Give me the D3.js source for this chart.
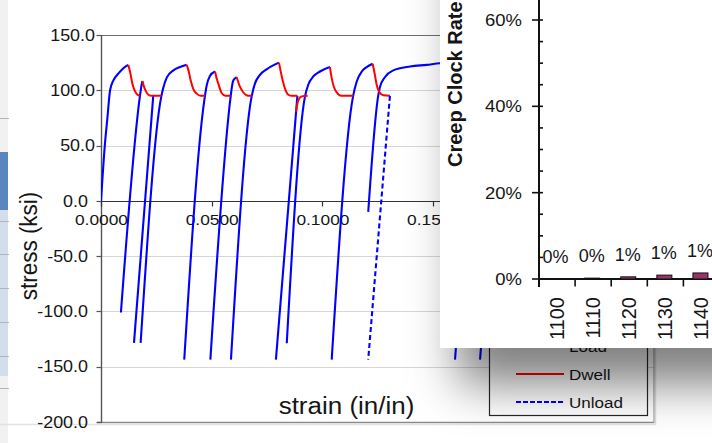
<!DOCTYPE html>
<html>
<head>
<meta charset="utf-8">
<script src="https://cdn.jsdelivr.net/npm/d3@7"></script>
<style>
  html, body { margin: 0; padding: 0; background: #ffffff; }
  svg { display: block; font-family: "Liberation Sans", Arial, sans-serif; }
</style>
</head>
<body>
<svg id="chart" width="712" height="443"></svg>
<script>
// ---------- stress-strain record (strain in/in, stress ksi) ----------
const loadSegments = [
  [[0, 0], [0.0018, 52], [0.0028, 73], [0.0041, 100], [0.0056, 109], [0.0078, 115], [0.0101, 120], [0.0123, 123]],
  [[0.0090, -101], [0.0176, 95], [0.0181, 102], [0.0187, 108.4]],
  [[0.0149, -128.5], [0.0236, 95]],
  [[0.0179, -128.5], [0.0272, 94], [0.0281, 102], [0.0297, 111.5], [0.0327, 118], [0.0357, 121], [0.0387, 123]],
  [[0.0376, -143.6], [0.0466, 90], [0.0477, 104], [0.0492, 113], [0.0515, 117]],
  [[0.0494, -143.6], [0.0586, 95], [0.0592, 104], [0.0598, 109], [0.0613, 111.8]],
  [[0.0587, -143.6], [0.0680, 94], [0.0696, 106.4], [0.0718, 114], [0.0748, 119], [0.0804, 125]],
  [[0.0790, -143.6], [0.0887, 95]],
  [[0.0839, -128.8], [0.0921, 94], [0.0936, 105], [0.0959, 112.5], [0.0989, 117], [0.1034, 121]],
  [[0.1042, -143.6], [0.1138, 94], [0.1155, 108], [0.1178, 117], [0.1200, 121], [0.1227, 124]],
  [[0.1207, -10], [0.1252, 95], [0.1260, 103], [0.1283, 112], [0.1320, 118], [0.1396, 121.5], [0.1471, 123], [0.1531, 124.4], [0.1600, 125]],
  [[0.1599, -143.6], [0.1690, 95]],
  [[0.1712, -143.6], [0.1805, 95]]
];
const dwellSegments = [
  [[0.0123, 123], [0.0131, 117], [0.0143, 105], [0.0154, 99], [0.0165, 96], [0.0176, 95]],
  [[0.0187, 108.4], [0.0193, 104], [0.0203, 99], [0.0214, 96], [0.0229, 95], [0.0274, 95]],
  [[0.0387, 123], [0.0395, 118], [0.0405, 109], [0.0417, 101], [0.0432, 97], [0.0450, 95], [0.0470, 95]],
  [[0.0515, 117], [0.0522, 111], [0.0530, 106], [0.0545, 97.5], [0.0562, 95], [0.0586, 95]],
  [[0.0613, 111.8], [0.0628, 103], [0.0643, 98], [0.0665, 95], [0.0681, 95]],
  [[0.0804, 125], [0.0816, 113], [0.0823, 107], [0.0831, 101.5], [0.0846, 96], [0.0861, 95], [0.0887, 95]],
  [[0.0881, 80.7], [0.0891, 91], [0.0907, 94.5], [0.0933, 95]],
  [[0.1034, 121], [0.1042, 111], [0.1052, 103], [0.1065, 98], [0.1085, 95], [0.1140, 95]],
  [[0.1227, 124], [0.1237, 114], [0.1245, 105], [0.1257, 98.5], [0.1275, 95.5], [0.1305, 95]]
];
const unloadSegments = [
  [[0.1305, 95], [0.1207, -143.6]]
];
const strainTicks = [0, 0.05, 0.10, 0.15, 0.20, 0.25];
const stressTicks = [150, 100, 50, 0, -50, -100, -150, -200];
const legendItems = ["Load", "Dwell", "Unload"];

// ---------- creep clock rate by temperature ----------
const temperatures = ["1100", "1110", "1120", "1130", "1140"];
const creepRates = [0, 0.2, 0.5, 0.9, 1.4];          // percent
const rateTicks = [0, 20, 40, 60];
const rateMinorTicks = [5, 10, 15, 25, 30, 35, 45, 50, 55];

const W = 712, H = 443;
const SX = 1.12;   // horizontal glyph stretch of the text
const svg = d3.select("#chart");
const defs = svg.append("defs");

function label(parent, x, y, text, o = {}) {
  const t = parent.append("text")
    .attr("transform", `translate(${x},${y}) scale(${o.sx ?? SX},1)` + (o.rotate ? ` rotate(${o.rotate})` : ""))
    .attr("text-anchor", o.anchor || "middle")
    .attr("font-size", o.size || 16)
    .attr("font-weight", o.weight || "normal")
    .attr("fill", o.fill || "#151515")
    .text(text);
  if (o.baseline) t.attr("dominant-baseline", o.baseline);
  return t;
}

svg.append("rect").attr("width", W).attr("height", H).attr("fill", "#ffffff");

// ---------- window strip at the left edge ----------
const strip = svg.append("g");
strip.append("rect").attr("x", 0).attr("y", 0).attr("width", 8).attr("height", H).attr("fill", "#f1f1f1");
strip.append("rect").attr("x", 0).attr("y", 152).attr("width", 8).attr("height", 58).attr("fill", "#5a86c0");
strip.append("rect").attr("x", 0).attr("y", 210).attr("width", 8).attr("height", 166).attr("fill", "#d3deed");
[118, 221, 254, 288, 322, 356, 388].forEach(yy =>
  strip.append("line").attr("x1", 0).attr("x2", 9).attr("y1", yy + 0.5).attr("y2", yy + 0.5)
    .attr("stroke", "#b4b4b4").attr("stroke-width", 1));

// ---------- stress-strain chart ----------
const x = d3.scaleLinear().domain([0, 0.25]).range([101, 654.5]);
const y = d3.scaleLinear().domain([-200, 150]).range([422, 35]);
const main = svg.append("g");

// grid
main.append("g").selectAll("line").data(stressTicks.filter(v => v !== 150 && v !== -200 && v !== 0))
  .join("line")
  .attr("x1", x(0)).attr("x2", x(0.25))
  .attr("y1", d => Math.round(y(d)) + 0.5).attr("y2", d => Math.round(y(d)) + 0.5)
  .attr("stroke", "#d6d6d6").attr("stroke-width", 1);

// plot frame
main.append("line").attr("x1", 97).attr("x2", x(0.25)).attr("y1", 35.5).attr("y2", 35.5)
  .attr("stroke", "#6c6c6c").attr("stroke-width", 1.2);
main.append("line").attr("x1", 97).attr("x2", 654).attr("y1", 422.5).attr("y2", 422.5)
  .attr("stroke", "#8a8a8a").attr("stroke-width", 1.4);
main.append("line").attr("x1", 654).attr("x2", 654).attr("y1", 30).attr("y2", 423)
  .attr("stroke", "#9a9a9a").attr("stroke-width", 1.2);
main.append("line").attr("x1", 655.5).attr("x2", 655.5).attr("y1", 30).attr("y2", 425)
  .attr("stroke", "#dddddd").attr("stroke-width", 1.5);
main.append("line").attr("x1", 0).attr("x2", 656).attr("y1", 424.5).attr("y2", 424.5)
  .attr("stroke", "#e2e2e2").attr("stroke-width", 1.5);

// y axis
main.append("line").attr("x1", 101.5).attr("x2", 101.5).attr("y1", 35).attr("y2", 423)
  .attr("stroke", "#555555").attr("stroke-width", 1.4);
main.append("g").selectAll("line").data(stressTicks).join("line")
  .attr("x1", 96.5).attr("x2", 101.5)
  .attr("y1", d => Math.round(y(d)) + 0.5).attr("y2", d => Math.round(y(d)) + 0.5)
  .attr("stroke", "#555555").attr("stroke-width", 1.2);
stressTicks.forEach(v => {
  label(main, v > 0 ? 95 : 88, y(v) + 5.7, d3.format(".1f")(v).replace("−", "-"), { anchor: "end", size: 16 });
});

// x axis at zero stress
main.append("line").attr("x1", x(0)).attr("x2", x(0.25)).attr("y1", Math.round(y(0)) + 0.5).attr("y2", Math.round(y(0)) + 0.5)
  .attr("stroke", "#333333").attr("stroke-width", 1.2);
main.append("g").selectAll("line").data(strainTicks).join("line")
  .attr("x1", d => Math.round(x(d)) + 0.5).attr("x2", d => Math.round(x(d)) + 0.5)
  .attr("y1", Math.round(y(0))).attr("y2", Math.round(y(0)) + 5.5)
  .attr("stroke", "#333333").attr("stroke-width", 1.2);
strainTicks.forEach(v => label(main, x(v) + 0.5, 225, d3.format(".4f")(v), { size: 15.5 }));

// axis titles
label(main, 36.5, 246, "stress (ksi)", { rotate: -90, size: 22.5, sx: 1.1 });
label(main, 346.5, 413.5, "strain (in/in)", { size: 23, sx: 1.13 });

// data
defs.append("clipPath").attr("id", "plotClip").append("rect")
  .attr("x", 101).attr("y", 35).attr("width", x(0.25) - 101).attr("height", 387);
const curve = d3.line().x(d => x(d[0])).y(d => y(d[1])).curve(d3.curveMonotoneX);
const straight = d3.line().x(d => x(d[0])).y(d => y(d[1]));
const dataG = main.append("g").attr("clip-path", "url(#plotClip)");
dataG.selectAll("path.load").data(loadSegments).join("path").attr("class", "load")
  .attr("d", curve).attr("fill", "none").attr("stroke", "#0000ff").attr("stroke-width", 2.1).attr("stroke-linejoin", "round");
dataG.selectAll("path.dwell").data(dwellSegments).join("path").attr("class", "dwell")
  .attr("d", curve).attr("fill", "none").attr("stroke", "#ff0000").attr("stroke-width", 2).attr("stroke-linejoin", "round");
dataG.selectAll("path.unload").data(unloadSegments).join("path").attr("class", "unload")
  .attr("d", straight).attr("fill", "none").attr("stroke", "#0000ff").attr("stroke-width", 2.1).attr("stroke-dasharray", "5,3");

// legend
const lg = main.append("g");
lg.append("rect").attr("x", 489.5).attr("y", 318.5).attr("width", 158).attr("height", 97)
  .attr("fill", "#ffffff").attr("stroke", "#262626").attr("stroke-width", 1.2);
const legendStyle = {
  Load: { stroke: "#0000ff", dash: null },
  Dwell: { stroke: "#ff0000", dash: null },
  Unload: { stroke: "#0000ff", dash: "5,2" }
};
legendItems.forEach((name, i) => {
  const rowY = 346 + i * 28;
  const st = legendStyle[name];
  const l = lg.append("line").attr("x1", 516).attr("x2", 564).attr("y1", rowY).attr("y2", rowY)
    .attr("stroke", st.stroke).attr("stroke-width", 1.8);
  if (st.dash) l.attr("stroke-dasharray", st.dash);
  label(lg, 569, rowY + 6, name, { anchor: "start", size: 15.5, sx: 1.1 });
});

// ---------- creep clock rate window ----------
const shadowFilter = defs.append("filter").attr("id", "winShadow")
  .attr("filterUnits", "userSpaceOnUse").attr("x", 300).attr("y", -200).attr("width", 700).attr("height", 750);
shadowFilter.append("feGaussianBlur").attr("stdDeviation", 24);
svg.append("rect").attr("x", 458).attr("y", -60).attr("width", 420).attr("height", 444)
  .attr("fill", "#000000").attr("fill-opacity", 0.5).attr("filter", "url(#winShadow)");

const win = svg.append("g");
win.append("rect").attr("x", 440).attr("y", -20).attr("width", 300).attr("height", 368).attr("fill", "#ffffff");

const ry = d3.scaleLinear().domain([0, 60]).range([279, 20]);
const band = 36.1;
const rx = d3.scaleBand().domain(temperatures).range([539, 539 + band * temperatures.length]).padding(0);
const cx = t => rx(t) + rx.bandwidth() / 2;

// value axis
win.append("line").attr("x1", 539).attr("x2", 539).attr("y1", -5).attr("y2", 287)
  .attr("stroke", "#111111").attr("stroke-width", 2);
win.append("g").selectAll("line").data(rateTicks).join("line")
  .attr("x1", 532).attr("x2", 543).attr("y1", d => ry(d)).attr("y2", d => ry(d))
  .attr("stroke", "#111111").attr("stroke-width", 1.6);
win.append("g").selectAll("line").data(rateMinorTicks).join("line")
  .attr("x1", 539).attr("x2", 543).attr("y1", d => ry(d)).attr("y2", d => ry(d))
  .attr("stroke", "#111111").attr("stroke-width", 1.6);
rateTicks.forEach(v => label(win, 522, ry(v) + 6, v + "%", { anchor: "end", size: 16.5 }));
label(win, 461.5, 167, "Creep Clock Rate", { rotate: -90, anchor: "start", size: 20, weight: "bold", sx: 1.05 });

// category axis
win.append("line").attr("x1", 539).attr("x2", 720).attr("y1", 279).attr("y2", 279)
  .attr("stroke", "#111111").attr("stroke-width", 2);
win.append("g").selectAll("line").data(temperatures).join("line")
  .attr("x1", d => rx(d) + band).attr("x2", d => rx(d) + band)
  .attr("y1", 279).attr("y2", 286.5)
  .attr("stroke", "#111111").attr("stroke-width", 1.6);
temperatures.forEach(t => label(win, cx(t), 297, t, { rotate: -90, anchor: "end", size: 20, baseline: "central", sx: 1.0 }));

// bars and value labels
win.append("g").selectAll("rect").data(temperatures.map((t, i) => ({ t, v: creepRates[i] })).filter(d => d.v > 0))
  .join("rect")
  .attr("x", d => cx(d.t) - 8.5).attr("width", 15)
  .attr("y", d => ry(d.v)).attr("height", d => ry(0) - ry(d.v))
  .attr("fill", "#993366").attr("stroke", "#111111").attr("stroke-width", 1);
temperatures.forEach((t, i) => {
  const v = creepRates[i];
  label(win, cx(t) - 1.5, ry(v) - 16, Math.round(v) + "%", { size: 17.5, sx: 1.03 });
});
</script>
</body>
</html>
